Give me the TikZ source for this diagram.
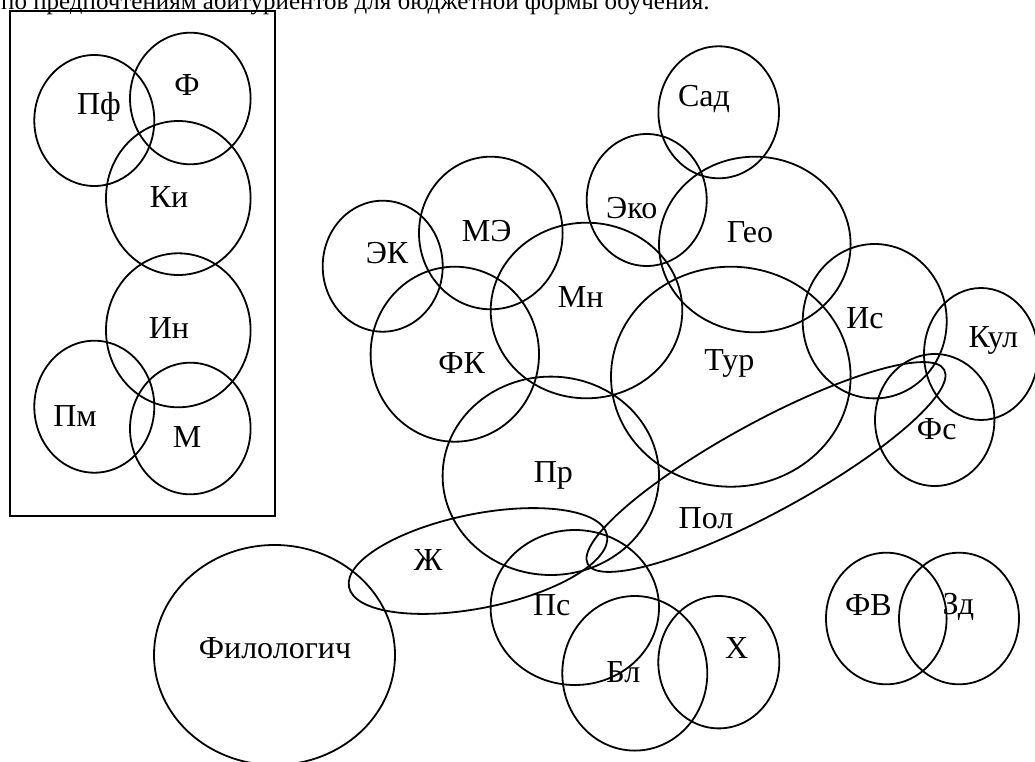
\documentclass[tikz,border=0pt]{standalone}
\usepackage{fontspec}
\setmainfont{Liberation Serif}
\usetikzlibrary{shapes.geometric}
\begin{document}
\begin{tikzpicture}[x=1pt,y=-1pt,
  ev/.style n args={2}{ellipse,draw,line width=1.8pt,inner sep=0pt,
     minimum width=2*#1,minimum height=2*#2},
  lbl/.style={font=\fontsize{32}{34}\selectfont,inner sep=0pt},
  ttl/.style={font=\fontsize{25}{27}\selectfont,inner sep=0pt},
  frame/.style={draw,line width=1.8pt,rectangle,inner sep=0pt}]
\useasboundingbox (0,0) rectangle (1035,762);
\clip (0,0) rectangle (1035,762);
\node[ttl,anchor=base west] (title) at (1,10) {по предпочтениям абитуриентов для бюджетной формы обучения.};
% framed group
\node[frame,minimum width=265,minimum height=505] (box) at (142.5,263.5) {};
\node[ev={60}{65.5}] (pf) at (94.3,120.5) {};
\node[ev={60.3}{65.8}] (f) at (190.3,98.5) {};
\node[ev={72.3}{77}] (ki) at (178.3,198) {};
\node[ev={72.3}{77}] (in) at (178.3,330.3) {};
\node[ev={60}{66}] (pm) at (94.3,406.7) {};
\node[ev={60.3}{65.8}] (m) at (190.3,428.5) {};
\node[lbl] (pfL) at (99,107) {Пф};
\node[lbl] (fL) at (187,85) {Ф};
\node[lbl] (kiL) at (169,197) {Ки};
\node[lbl] (inL) at (169,328) {Ин};
\node[lbl] (pmL) at (75,416) {Пм};
\node[lbl] (mL) at (187,437) {М};
% main cluster
\node[ev={60}{65.5}] (ek) at (382.7,266.2) {};
\node[ev={71.8}{76.3}] (me) at (490.8,233) {};
\node[ev={95.8}{87.8}] (mn) at (586.5,310.5) {};
\node[ev={60}{66}] (eko) at (646.7,200) {};
\node[ev={60.3}{66}] (sad) at (718.7,112.3) {};
\node[ev={95.8}{87.8}] (geo) at (754.8,244.5) {};
\node[ev={119.8}{110}] (tur) at (730.8,376.7) {};
\node[ev={72}{77.2}] (is) at (874.7,321.2) {};
\node[ev={57}{66}] (kul) at (981,354) {};
\node[ev={59.7}{66}] (fs) at (934.7,420) {};
\node[ev={84.2}{87.5}] (fk) at (454.8,354.2) {};
\node[ev={108.2}{99.2}] (pr) at (550.8,475.8) {};
\node[ev={84.2}{77.5}] (ps) at (574.8,607.5) {};
\node[ev={72.5}{77.3}] (bl) at (634.8,673.3) {};
\node[ev={60.5}{66.2}] (h) at (718.8,662.2) {};
\node[ev={60.3}{65.8}] (fv) at (886.3,618.5) {};
\node[ev={60}{65.8}] (zd) at (959,618.5) {};
\node[ev={120.5}{110}] (fil) at (274.5,655) {};
\node[ev={131.6}{47},rotate=11.4] (zh) at (478,561) {};
\node[ev={203}{45},rotate=28.6] (pol) at (766,467) {};
\node[lbl] (ekL) at (387,253) {ЭК};
\node[lbl] (meL) at (486.7,230.7) {МЭ};
\node[lbl] (mnL) at (580.7,296.7) {Мн};
\node[lbl] (ekoL) at (631.7,208.3) {Эко};
\node[lbl] (sadL) at (704,99.3) {Сад};
\node[lbl] (geoL) at (750,231.7) {Гео};
\node[lbl] (turL) at (729.3,363.3) {Тур};
\node[lbl] (isL) at (865,318.3) {Ис};
\node[lbl] (kulL) at (993.3,340) {Кул};
\node[lbl] (fsL) at (936.7,429.3) {Фс};
\node[lbl] (fkL) at (461.7,363.3) {ФК};
\node[lbl] (prL) at (553.3,475) {Пр};
\node[lbl] (psL) at (551.7,605) {Пс};
\node[lbl] (blL) at (623.3,671.7) {Бл};
\node[lbl] (hL) at (736.7,648.3) {Х};
\node[lbl] (fvL) at (868.3,605) {ФВ};
\node[lbl] (zdL) at (958.3,606.7) {Зд};
\node[lbl] (filL) at (275,648.3) {Филологич};
\node[lbl] (zhL) at (428.3,560) {Ж};
\node[lbl] (polL) at (706,518.3) {Пол};
\end{tikzpicture}
\end{document}
